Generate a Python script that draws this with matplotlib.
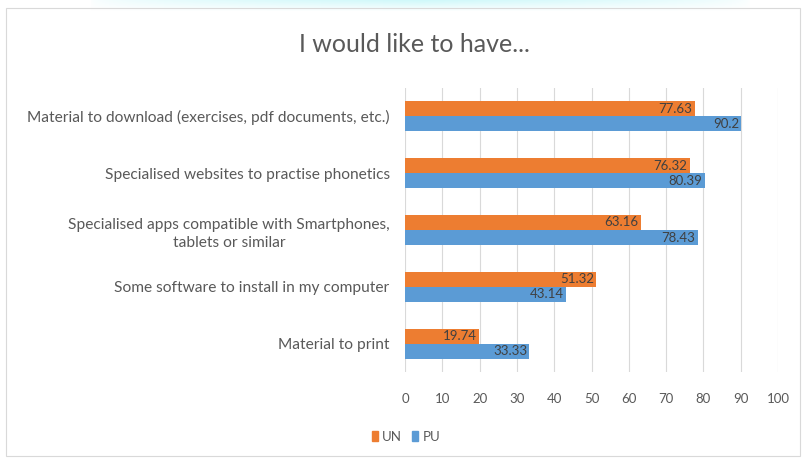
import numpy as np
import matplotlib
matplotlib.use("Agg")
import matplotlib.pyplot as plt
from matplotlib.patches import Rectangle

categories = [
    "Material to download (exercises, pdf documents, etc.)",
    "Specialised websites to practise phonetics",
    "Specialised apps compatible with Smartphones,\ntablets or similar",
    "Some software to install in my computer",
    "Material to print",
]
un_values = [77.63, 76.32, 63.16, 51.32, 19.74]
pu_values = [90.2, 80.39, 78.43, 43.14, 33.33]
series_names = ["UN", "PU"]
x_ticks = [0, 10, 20, 30, 40, 50, 60, 70, 80, 90, 100]

orange = "#ED7D31"
blue = "#5B9BD5"
text_col = "#595959"

plt.rcParams["font.family"] = ["Lato", "DejaVu Sans"]

fig = plt.figure(figsize=(8.06, 4.61), dpi=100)

# soft cyan glow along the top edge
glow = fig.add_axes([0, 0, 1, 1], zorder=-5)
h, w = 461, 806
yy, xx = np.mgrid[0:h, 0:w]
alpha = np.clip(1 - yy / 12.0, 0, 1) * np.clip(1 - np.abs(xx - 420) / 330.0, 0, 1) ** 0.5
img = np.zeros((h, w, 4))
img[..., 0] = 0.78
img[..., 1] = 0.97
img[..., 2] = 0.98
img[..., 3] = alpha * 0.9
glow.imshow(img, aspect="auto", extent=[0, 1, 0, 1], origin="upper")
glow.set_xlim(0, 1)
glow.set_ylim(0, 1)
glow.axis("off")

# chart frame
fig.patches.append(Rectangle((6 / w, 1 - 456 / h), 794 / w, 448 / h,
                             transform=fig.transFigure, fill=False,
                             edgecolor="#d9d9d9", linewidth=0.8, zorder=-1))

ax = fig.add_axes([405 / w, 1 - 372 / h, 373 / w, 284 / h])
n = len(categories)
y = np.arange(n)
bh = 0.265
ax.barh(y - bh / 2, un_values, height=bh, color=orange, zorder=3)
ax.barh(y + bh / 2, pu_values, height=bh, color=blue, zorder=3)

for yi, v in zip(y, un_values):
    ax.text(v - 0.6, yi - bh / 2, f"{v:g}", ha="right", va="center",
            fontsize=9.5, color="#404040", zorder=4)
for yi, v in zip(y, pu_values):
    ax.text(v - 0.6, yi + bh / 2, f"{v:g}", ha="right", va="center",
            fontsize=9.5, color="#404040", zorder=4)

ax.set_ylim(n - 0.5, -0.5)
ax.set_xlim(0, 100)
ax.set_xticks(x_ticks)
ax.set_xticklabels([str(t) for t in x_ticks], color=text_col, fontsize=9.5)
ax.set_yticks(y)
ax.set_yticklabels(categories, color=text_col, fontsize=11.2, linespacing=1.4,
                   multialignment="center")
ax.tick_params(axis="both", length=0)
ax.tick_params(axis="y", pad=11)
ax.tick_params(axis="x", pad=15)
ax.grid(axis="x", color="#d9d9d9", linewidth=0.8, zorder=0)
for s in ax.spines.values():
    s.set_visible(False)

fig.text(414 / w, 1 - 45 / h, "I would like to have...", ha="center", va="center",
         fontsize=18, color=text_col)

# legend
leg_handles = [Rectangle((0, 0), 1, 1, color=orange), Rectangle((0, 0), 1, 1, color=blue)]
fig.legend(leg_handles, series_names, loc="center", bbox_to_anchor=(406 / w, 1 - 437 / h),
           ncol=2, frameon=False, fontsize=9.5, handlelength=0.45, handleheight=0.8,
           handletextpad=0.3, columnspacing=0.8, labelcolor=text_col)

fig.savefig("out.png", dpi=100)
